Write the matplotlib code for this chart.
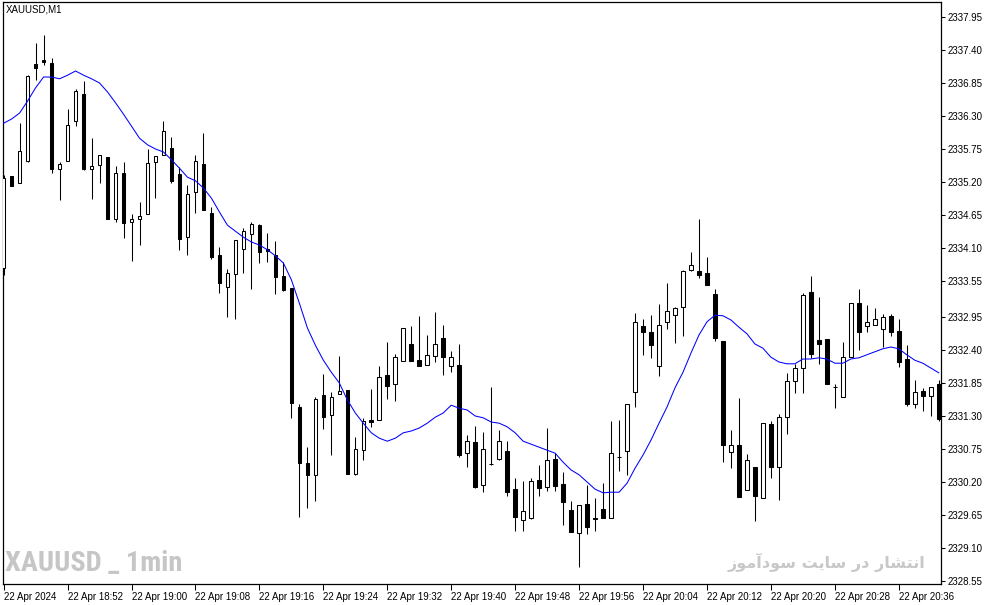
import matplotlib
matplotlib.use("Agg")
import matplotlib.pyplot as plt
from matplotlib import font_manager
import numpy as np

# XAUUSD M1, 22 Apr 2024 18:44 .. 20:41
opens = [2333.77, 2335.30, 2335.18, 2335.55, 2337.17, 2337.23, 2337.18, 2335.42, 2335.55, 2336.22,
         2336.67, 2335.42, 2335.48, 2335.62, 2334.58, 2335.35, 2334.53, 2334.58, 2334.67, 2335.53,
         2335.65, 2335.77, 2335.33, 2334.28, 2335.03, 2335.50, 2334.68, 2333.98, 2333.45, 2333.67,
         2334.08, 2334.33, 2334.48, 2334.08, 2333.98, 2333.63, 2333.43, 2331.45, 2330.52, 2330.32,
         2331.65, 2331.32, 2331.67, 2331.73, 2330.33, 2330.73, 2331.23, 2331.23, 2331.98, 2331.83,
         2332.22, 2332.50, 2332.23, 2332.15, 2332.30, 2332.60, 2332.13, 2332.15, 2330.68, 2330.87,
         2330.15, 2330.50, 2330.58, 2330.72, 2330.08, 2329.57, 2329.60, 2330.23, 2330.12, 2330.58,
         2330.17, 2329.73, 2329.35, 2329.83, 2329.60, 2329.75, 2329.60, 2330.62, 2330.72, 2331.70,
         2332.80, 2332.70, 2332.13, 2332.87, 2332.98, 2333.12, 2333.73, 2333.72, 2333.68, 2333.33,
         2332.55, 2330.70, 2330.82, 2330.07, 2330.45, 2329.93, 2331.17, 2330.45, 2331.28, 2331.88,
         2332.10, 2333.37, 2332.57, 2332.58, 2331.78, 2331.62, 2332.28, 2333.18, 2332.80, 2332.82,
         2332.75, 2332.97, 2332.72, 2332.25, 2331.50, 2331.72, 2331.63, 2331.83]
highs = [2335.32, 2335.30, 2336.18, 2336.98, 2337.52, 2337.65, 2337.27, 2335.53, 2336.42, 2336.75,
         2336.88, 2335.93, 2335.65, 2335.62, 2335.47, 2335.53, 2334.67, 2334.87, 2335.75, 2335.63,
         2336.22, 2335.95, 2335.45, 2335.15, 2335.65, 2336.02, 2334.78, 2334.12, 2333.75, 2334.23,
         2334.43, 2334.53, 2334.50, 2334.35, 2334.22, 2333.87, 2333.43, 2331.50, 2330.78, 2331.62,
         2332.00, 2331.70, 2332.30, 2331.73, 2330.95, 2331.27, 2331.75, 2332.13, 2332.53, 2332.33,
         2332.77, 2332.80, 2332.97, 2332.65, 2333.03, 2332.82, 2332.38, 2332.50, 2330.98, 2331.13,
         2331.03, 2331.78, 2331.07, 2330.88, 2330.27, 2330.22, 2330.27, 2330.48, 2331.10, 2330.68,
         2330.37, 2329.88, 2329.82, 2330.15, 2329.93, 2330.18, 2331.22, 2331.23, 2331.50, 2333.02,
         2332.92, 2332.98, 2333.17, 2333.52, 2333.12, 2333.73, 2334.03, 2334.58, 2333.95, 2333.42,
         2332.55, 2331.07, 2331.60, 2330.67, 2330.45, 2331.18, 2331.22, 2331.33, 2332.02, 2332.17,
         2333.35, 2333.63, 2333.28, 2332.58, 2331.83, 2332.53, 2333.18, 2333.42, 2333.15, 2333.10,
         2333.00, 2333.00, 2332.92, 2332.48, 2331.90, 2331.77, 2331.78, 2331.90]
lows = [2333.65, 2335.13, 2335.18, 2335.53, 2336.90, 2337.15, 2335.35, 2334.90, 2335.55, 2336.13,
        2335.40, 2334.92, 2335.18, 2334.58, 2334.53, 2334.27, 2333.88, 2334.15, 2334.67, 2334.93,
        2335.65, 2335.18, 2334.07, 2333.98, 2334.68, 2334.73, 2333.92, 2333.35, 2332.95, 2332.92,
        2333.68, 2333.42, 2333.85, 2333.87, 2333.33, 2333.38, 2331.27, 2329.62, 2329.77, 2329.88,
        2331.08, 2330.65, 2331.67, 2330.33, 2330.32, 2330.57, 2331.12, 2331.23, 2331.58, 2331.55,
        2332.22, 2332.22, 2332.13, 2332.15, 2332.20, 2331.98, 2332.03, 2330.62, 2330.45, 2330.10,
        2330.03, 2330.48, 2330.57, 2329.97, 2329.38, 2329.38, 2329.58, 2329.97, 2330.05, 2330.05,
        2329.48, 2329.37, 2328.78, 2329.33, 2329.38, 2329.60, 2329.60, 2330.38, 2330.32, 2331.45,
        2332.32, 2332.27, 2331.97, 2332.75, 2332.52, 2332.63, 2333.72, 2333.60, 2333.48, 2332.55,
        2330.53, 2330.43, 2329.95, 2330.07, 2329.55, 2329.93, 2330.27, 2329.90, 2331.00, 2331.68,
        2331.68, 2332.27, 2332.17, 2331.83, 2331.43, 2331.62, 2332.28, 2332.40, 2332.70, 2332.82,
        2332.45, 2332.63, 2332.12, 2331.47, 2331.43, 2331.38, 2331.30, 2331.22]
closes = [2335.27, 2335.13, 2335.72, 2336.97, 2337.10, 2337.20, 2335.42, 2335.50, 2336.15, 2336.72,
          2335.42, 2335.47, 2335.65, 2334.58, 2335.35, 2334.52, 2334.58, 2334.63, 2335.52, 2335.63,
          2336.05, 2335.22, 2334.25, 2335.00, 2335.55, 2334.73, 2333.95, 2333.52, 2333.68, 2334.23,
          2334.38, 2334.50, 2334.03, 2334.05, 2333.62, 2333.40, 2331.52, 2330.52, 2330.32, 2331.58,
          2331.28, 2331.62, 2331.72, 2330.33, 2330.75, 2331.22, 2331.20, 2331.95, 2331.80, 2332.28,
          2332.77, 2332.22, 2332.13, 2332.32, 2332.50, 2332.28, 2332.28, 2330.65, 2330.88, 2330.12,
          2330.75, 2330.50, 2330.88, 2330.03, 2329.62, 2329.72, 2330.22, 2330.10, 2330.57, 2330.13,
          2329.87, 2329.37, 2329.82, 2329.45, 2329.58, 2329.60, 2330.68, 2330.62, 2331.50, 2332.87,
          2332.70, 2332.48, 2332.82, 2333.05, 2333.10, 2333.72, 2333.82, 2333.65, 2333.48, 2332.60,
          2330.82, 2330.82, 2329.95, 2330.57, 2329.97, 2331.18, 2330.45, 2331.28, 2331.88, 2332.10,
          2333.32, 2332.33, 2332.50, 2331.83, 2331.78, 2332.28, 2333.18, 2332.70, 2332.87, 2332.92,
          2332.95, 2332.70, 2332.20, 2331.50, 2331.70, 2331.63, 2331.78, 2331.25]
# moving average as drawn (blue line)
ma_values = [2336.18, 2336.25, 2336.35, 2336.55, 2336.77, 2336.95, 2336.95, 2336.92, 2336.98, 2337.05,
             2336.98, 2336.92, 2336.85, 2336.70, 2336.52, 2336.33, 2336.13, 2335.93, 2335.82, 2335.75,
             2335.70, 2335.57, 2335.43, 2335.28, 2335.22, 2335.10, 2334.93, 2334.70, 2334.48, 2334.38,
             2334.28, 2334.20, 2334.15, 2334.07, 2333.97, 2333.85, 2333.57, 2333.18, 2332.77, 2332.48,
             2332.23, 2332.03, 2331.85, 2331.57, 2331.35, 2331.18, 2331.02, 2330.93, 2330.88, 2330.93,
             2331.02, 2331.05, 2331.10, 2331.18, 2331.28, 2331.35, 2331.48, 2331.43, 2331.40, 2331.30,
             2331.27, 2331.20, 2331.18, 2331.12, 2331.02, 2330.88, 2330.83, 2330.78, 2330.73, 2330.68,
             2330.53, 2330.40, 2330.32, 2330.20, 2330.08, 2330.02, 2330.03, 2330.03, 2330.18, 2330.43,
             2330.65, 2330.90, 2331.18, 2331.45, 2331.77, 2332.03, 2332.35, 2332.65, 2332.87, 2332.98,
             2332.97, 2332.90, 2332.78, 2332.67, 2332.50, 2332.43, 2332.28, 2332.20, 2332.17, 2332.17,
             2332.25, 2332.25, 2332.27, 2332.25, 2332.18, 2332.18, 2332.25, 2332.27, 2332.32, 2332.37,
             2332.42, 2332.45, 2332.42, 2332.32, 2332.23, 2332.18, 2332.10, 2332.02]

time_labels = ["22 Apr 2024", "22 Apr 18:52", "22 Apr 19:00", "22 Apr 19:08", "22 Apr 19:16",
               "22 Apr 19:24", "22 Apr 19:32", "22 Apr 19:40", "22 Apr 19:48", "22 Apr 19:56",
               "22 Apr 20:04", "22 Apr 20:12", "22 Apr 20:20", "22 Apr 20:28", "22 Apr 20:36"]
price_ticks = [2337.95, 2337.40, 2336.85, 2336.30, 2335.75, 2335.20, 2334.65, 2334.10, 2333.55,
               2332.95, 2332.40, 2331.85, 2331.30, 2330.75, 2330.20, 2329.65, 2329.10, 2328.55]

plt.rcParams['font.family'] = ['Liberation Sans', 'DejaVu Sans']


def pick_font(candidates, default='DejaVu Sans'):
    # first installed family from the list (narrow/condensed faces if present)
    for fam in candidates:
        try:
            font_manager.findfont(font_manager.FontProperties(family=fam, weight='bold'),
                                  fallback_to_default=False)
            return fam
        except ValueError:
            continue
    return default


W, H = 987, 605
fig = plt.figure(figsize=(W / 100, H / 100), dpi=100)
ax = fig.add_axes([3 / W, 1 - 584 / H, 938 / W, 582 / H])

x = np.arange(len(opens))
o = np.array(opens)
c = np.array(closes)
up = c >= o

# wicks first, bodies on top
ax.vlines(x, lows, highs, color='black', lw=0.75)
ax.bar(x[up], (c - o)[up], bottom=o[up], width=0.45, facecolor='white',
       edgecolor='black', lw=0.75, zorder=3)
ax.bar(x[~up], (o - c)[~up], bottom=c[~up], width=0.45, facecolor='black',
       edgecolor='black', lw=0.75, zorder=3)
ax.plot(x, ma_values, color='#0000ff', lw=0.75, zorder=4)

ax.set_xlim(-0.08, 117.28)
ax.set_ylim(2328.50, 2338.20)

ax.yaxis.tick_right()
ax.set_yticks(price_ticks, labels=[f"{v:.2f}" for v in price_ticks])
ax.tick_params(axis='y', direction='out', length=3, width=0.75, pad=2, labelsize=7, colors='black')
ax.set_xticks(np.arange(0, len(opens), 8)[:len(time_labels)], labels=time_labels)
ax.tick_params(axis='x', direction='out', length=4, width=0.75, pad=2, labelsize=7)
for lab in ax.get_xticklabels():
    lab.set_horizontalalignment('left')
for sp in ax.spines.values():
    sp.set_linewidth(0.9)
    sp.set_color('black')

fig.text(6 / W, 1 - 10 / H, "XAUUSD,M1", fontsize=7, va='center', ha='left')

# watermarks
narrow = pick_font(['Liberation Sans Narrow', 'Roboto Condensed', 'Open Sans Condensed',
                    'DejaVu Sans Condensed', 'Noto Sans Condensed'])
wm1 = fig.text(5 / W, 1 - 564 / H, "XAUUSD _ 1min", fontsize=21, fontweight='bold',
               family=[narrow, 'DejaVu Sans'], color='#c6c6c6', va='center', ha='left')
# "انتشار در سایت سودآموز" pre-shaped (presentation forms, visual order) since matplotlib does no bidi shaping
persian = ("\uFEAF\uFEEE\uFEE3\uFE81\uFEA9\uFEEE\uFEB3 \uFE96\uFBFE\uFE8E\uFEB3 "
           "\uFEAD\uFEA9 \uFEAD\uFE8E\uFEB8\uFE98\uFEE7\uFE8D")
wm2 = fig.text(925 / W, 1 - 562 / H, persian, fontsize=15, fontweight='bold',
               family=['DejaVu Sans'], color='#c8c8c8', va='center', ha='right')

# shrink the watermarks to the widths they have in the screenshot
fig.canvas.draw()
rend = fig.canvas.get_renderer()
for t, target in ((wm1, 177), (wm2, 198)):
    w = t.get_window_extent(rend).width
    t.set_fontsize(t.get_fontsize() * target / w)

fig.savefig("out.png", dpi=100, facecolor='white')
